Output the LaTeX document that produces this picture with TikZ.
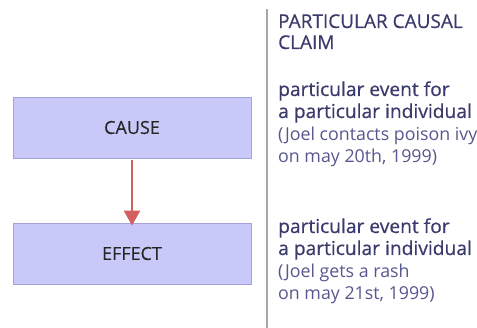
\documentclass[tikz,border=0pt]{standalone}
\usepackage{fontspec}
\setmainfont{Open Sans}
\newfontfamily\headfont[FakeBold=0.6]{Open Sans}
\newfontfamily\boxfont[FakeBold=0.4]{Open Sans}
\usetikzlibrary{arrows.meta}
\definecolor{boxfill}{HTML}{C9C9F9}
\definecolor{boxline}{HTML}{A3A3DA}
\definecolor{arrowred}{HTML}{D2605E}
\definecolor{headtxt}{HTML}{3A3A6C}
\definecolor{bodytxt}{HTML}{575790}
\definecolor{rulegray}{HTML}{A8A8A8}
\tikzset{
  evbox/.style={draw=boxline, fill=boxfill, line width=0.8pt, minimum width=238pt, minimum height=61pt, inner sep=0pt, font=\boxfont\fontsize{18}{20}\selectfont, text=black!85},
  headline/.style={anchor=base west, inner sep=0pt, text=headtxt, font=\headfont\fontsize{19}{22}\selectfont},
  bodyhead/.style={headline, font=\headfont\fontsize{19.2}{22}\selectfont},
  subline/.style={anchor=base west, inner sep=0pt, text=bodytxt, font=\fontsize{17.8}{21}\selectfont},
}
\begin{document}
\begin{tikzpicture}[x=1pt,y=-1pt]
\useasboundingbox (0,0) rectangle (477,328);
\node[evbox] (cause) at (132,127.5) {CAUSE};
\node[evbox] (effect) at (132,253.5) {EFFECT};
\draw[arrowred, line width=2.5pt, -{Triangle[length=15pt,width=16pt]}] ([yshift=-2pt]cause.south) -- ([yshift=-3pt]effect.north);
\coordinate (rtop) at (267,9);
\coordinate (rbot) at (267,328);
\draw[rulegray, line width=1.8pt] (rtop) -- (rbot);
\node[headline] (t1) at (278,28) {PARTICULAR CAUSAL};
\node[headline] (t2) at (278,49) {CLAIM};
\node[bodyhead] (a1) at (278,96) {particular event for};
\node[bodyhead] (a2) at (278,118) {a particular individual};
\node[subline] (a3) at (278,141) {(Joel contacts poison ivy};
\node[subline] (a4) at (278,163) {on may 20th, 1999)};
\node[bodyhead] (b1) at (278,233) {particular event for};
\node[bodyhead] (b2) at (278,255) {a particular individual};
\node[subline] (b3) at (278,278) {(Joel gets a rash};
\node[subline] (b4) at (278,300) {on may 21st, 1999)};
\end{tikzpicture}
\end{document}
